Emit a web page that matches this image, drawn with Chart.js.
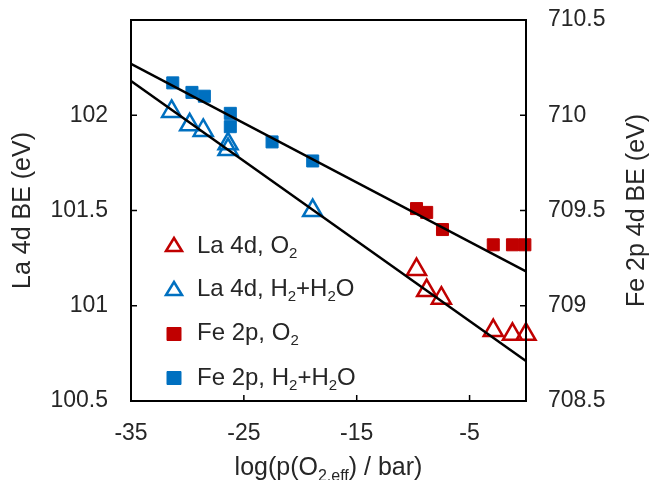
<!DOCTYPE html>
<html>
<head>
<meta charset="utf-8">
<script src="https://cdn.jsdelivr.net/npm/chart.js@4.4.1/dist/chart.umd.min.js"></script>
<style>
  html, body { margin: 0; padding: 0; background: #fff; }
  #wrap { width: 655px; height: 480px; }
</style>
</head>
<body>
<div id="wrap"><canvas id="myChart" width="655" height="480"></canvas></div>
<script>
// tick values
const xTicks = [-35, -25, -15, -5];
const leftTicks = [100.5, 101, 101.5, 102];
const rightTicks = [708.5, 709, 709.5, 710, 710.5];

// La 4d, O2 (left axis)
const laO2X = [-9.7, -8.8, -7.5, -2.9, -1.2, 0];
const laO2Y = [101.19, 101.08, 101.04, 100.87, 100.85, 100.85];
// La 4d, H2+H2O (left axis)
const laH2X = [-31.4, -29.8, -28.6, -26.4, -26.4, -18.9];
const laH2Y = [102.02, 101.95, 101.92, 101.85, 101.82, 101.50];
// Fe 2p, O2 (right axis)
const feO2X = [-9.7, -8.8, -7.4, -2.9, -1.2, -0.1];
const feO2Y = [709.51, 709.49, 709.40, 709.32, 709.32, 709.32];
// Fe 2p, H2+H2O (right axis)
const feH2X = [-31.3, -29.6, -28.5, -26.2, -26.2, -22.5, -18.9];
const feH2Y = [710.17, 710.12, 710.10, 710.01, 709.94, 709.86, 709.76];

// fitted lines
const fitX = [-35, 0];
const laFitY = [102.18, 100.71];
const feFitY = [710.27, 709.18];

const RED = '#c00000';
const BLUE = '#0070c0';
const TXT = '#262626';
const FONT = '"Liberation Sans", Arial, sans-serif';

function pts(xs, ys) {
    return xs.map((x, i) => ({ x: x, y: ys[i] }));
}

const legendItems = [
    { style: 'triangle', color: RED, fill: false, parts: [['La 4d, O'], ['2', 1]] },
    { style: 'triangle', color: BLUE, fill: false, parts: [['La 4d, H'], ['2', 1], ['+H'], ['2', 1], ['O']] },
    { style: 'rect', color: RED, fill: true, parts: [['Fe 2p, O'], ['2', 1]] },
    { style: 'rect', color: BLUE, fill: true, parts: [['Fe 2p, H'], ['2', 1], ['+H'], ['2', 1], ['O']] }
];

// draw text with subscripts
function richText(ctx, parts, x, y, size, align) {
    const subSize = Math.round(size * 0.62);
    let total = 0;
    parts.forEach(p => {
        ctx.font = (p[1] ? subSize : size) + 'px ' + FONT;
        total += ctx.measureText(p[0]).width;
    });
    let cx = align === 'center' ? x - total / 2 : x;
    ctx.textBaseline = 'alphabetic';
    ctx.textAlign = 'left';
    parts.forEach(p => {
        ctx.font = (p[1] ? subSize : size) + 'px ' + FONT;
        ctx.fillText(p[0], cx, p[1] ? y + size * 0.22 : y);
        cx += ctx.measureText(p[0]).width;
    });
}

const framePlugin = {
    id: 'frame',
    afterDatasetsDraw(chart) {
        const ctx = chart.ctx;
        const a = chart.chartArea;
        const sx = chart.scales.x, sl = chart.scales.yL, sr = chart.scales.yR;
        ctx.save();
        ctx.strokeStyle = '#000';
        ctx.lineWidth = 2;
        ctx.strokeRect(a.left, a.top, a.right - a.left, a.bottom - a.top);
        ctx.lineWidth = 1.5;
        ctx.beginPath();
        xTicks.forEach(v => {
            const px = sx.getPixelForValue(v);
            ctx.moveTo(px, a.bottom);
            ctx.lineTo(px, a.bottom - 6);
        });
        leftTicks.forEach(v => {
            const py = sl.getPixelForValue(v);
            ctx.moveTo(a.left, py);
            ctx.lineTo(a.left + 6, py);
        });
        rightTicks.forEach(v => {
            const py = sr.getPixelForValue(v);
            ctx.moveTo(a.right, py);
            ctx.lineTo(a.right - 6, py);
        });
        ctx.stroke();

        // legend
        const marks = [245, 289, 334, 378];
        const bases = [253, 296, 340, 385];
        legendItems.forEach((it, i) => {
            ctx.save();
            ctx.strokeStyle = it.color;
            ctx.fillStyle = it.fill ? it.color : '#fff';
            ctx.lineWidth = it.fill ? 1 : 2.5;
            ctx.beginPath();
            if (it.style === 'triangle') {
                ctx.moveTo(174, marks[i] - 7);
                ctx.lineTo(174 + 8, marks[i] + 6);
                ctx.lineTo(174 - 8, marks[i] + 6);
                ctx.closePath();
            } else {
                ctx.rect(174 - 7, marks[i] - 6.5, 14, 13);
            }
            ctx.fill();
            ctx.stroke();
            ctx.restore();
            ctx.fillStyle = TXT;
            richText(ctx, it.parts, 197, bases[i], 24);
        });

        // axis titles
        ctx.fillStyle = TXT;
        richText(ctx, [['log(p(O'], ['2,eff', 1], [') / bar)']], (a.left + a.right) / 2, 475, 25, 'center');
        ctx.font = '25px ' + FONT;
        ctx.textAlign = 'center';
        ctx.textBaseline = 'middle';
        ctx.save();
        ctx.translate(23, (a.top + a.bottom) / 2);
        ctx.rotate(-Math.PI / 2);
        ctx.fillText('La 4d BE (eV)', 0, 0);
        ctx.restore();
        ctx.save();
        ctx.translate(637, (a.top + a.bottom) / 2);
        ctx.rotate(-Math.PI / 2);
        ctx.fillText('Fe 2p 4d BE (eV)', 0, 0);
        ctx.restore();
        ctx.restore();
    }
};

const tickFont = { family: FONT, size: 23 };

function noPad(s) {
    s.paddingTop = 0;
    s.paddingBottom = 0;
    s.paddingLeft = 0;
    s.paddingRight = 0;
}

const ctx = document.getElementById('myChart').getContext('2d');
const myChart = new Chart(ctx, {
    type: 'scatter',
    data: {
        datasets: [
            {
                type: 'line', label: 'fit La', data: pts(fitX, laFitY), yAxisID: 'yL',
                borderColor: '#000', borderWidth: 2.5, pointRadius: 0, fill: false, showLine: true
            },
            {
                type: 'line', label: 'fit Fe', data: pts(fitX, feFitY), yAxisID: 'yR',
                borderColor: '#000', borderWidth: 2.5, pointRadius: 0, fill: false, showLine: true
            },
            {
                label: 'La 4d, O2', data: pts(laO2X, laO2Y), yAxisID: 'yL',
                pointStyle: 'triangle', pointRadius: 11, borderWidth: 2.5,
                borderColor: RED, backgroundColor: 'rgba(255,255,255,0)', clip: false
            },
            {
                label: 'La 4d, H2+H2O', data: pts(laH2X, laH2Y), yAxisID: 'yL',
                pointStyle: 'triangle', pointRadius: 11, borderWidth: 2.5,
                borderColor: BLUE, backgroundColor: 'rgba(255,255,255,0)', clip: false
            },
            {
                label: 'Fe 2p, O2', data: pts(feO2X, feO2Y), yAxisID: 'yR',
                pointStyle: 'rect', pointRadius: 8.5, borderWidth: 1,
                borderColor: RED, backgroundColor: RED, clip: false
            },
            {
                label: 'Fe 2p, H2+H2O', data: pts(feH2X, feH2Y), yAxisID: 'yR',
                pointStyle: 'rect', pointRadius: 8.5, borderWidth: 1,
                borderColor: BLUE, backgroundColor: BLUE, clip: false
            }
        ]
    },
    options: {
        responsive: false,
        animation: false,
        layout: { padding: { top: 20, left: 0, right: 0, bottom: 0 } },
        plugins: { legend: { display: false }, tooltip: { enabled: false } },
        scales: {
            x: {
                type: 'linear', min: -35, max: 0,
                afterBuildTicks: s => { s.ticks = xTicks.map(v => ({ value: v })); },
                afterFit: s => { s.height = 79; noPad(s); },
                grid: { display: false, drawTicks: false },
                border: { display: false },
                ticks: { font: tickFont, color: TXT, padding: 19, maxRotation: 0, callback: v => String(v) }
            },
            yL: {
                type: 'linear', position: 'left', min: 100.5, max: 102.5,
                afterBuildTicks: s => { s.ticks = leftTicks.map(v => ({ value: v })); },
                afterFit: s => { s.width = 131; noPad(s); },
                grid: { display: false, drawTicks: false },
                border: { display: false },
                ticks: { font: tickFont, color: TXT, padding: 23, callback: v => String(v) }
            },
            yR: {
                type: 'linear', position: 'right', min: 708.5, max: 710.5,
                afterBuildTicks: s => { s.ticks = rightTicks.map(v => ({ value: v })); },
                afterFit: s => { s.width = 129; noPad(s); },
                grid: { display: false, drawTicks: false },
                border: { display: false },
                ticks: { font: tickFont, color: TXT, padding: 22, callback: v => String(v) }
            }
        }
    },
    plugins: [framePlugin]
});
</script>
</body>
</html>
